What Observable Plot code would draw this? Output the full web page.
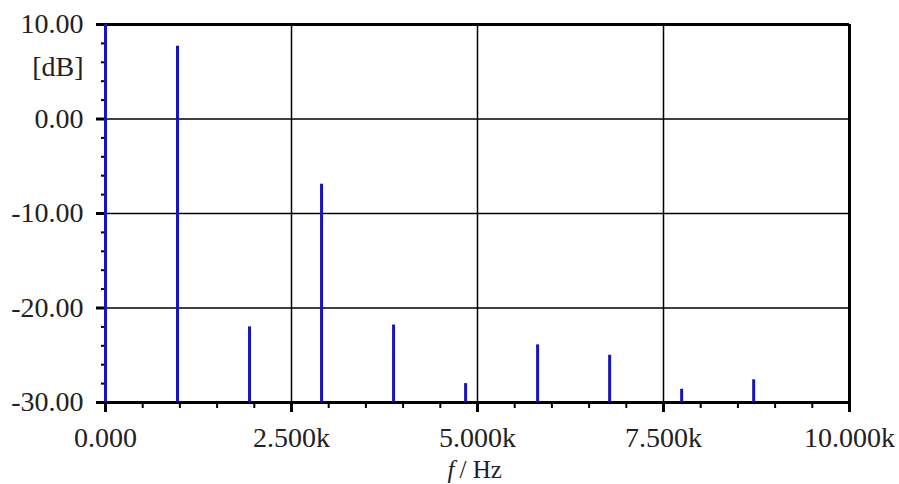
<!DOCTYPE html>
<html>
<head>
<meta charset="utf-8">
<script src="https://cdn.jsdelivr.net/npm/d3@7"></script>
<script src="https://cdn.jsdelivr.net/npm/@observablehq/plot@0.6"></script>
<style>
  html, body { margin: 0; padding: 0; background: white; }
</style>
</head>
<body>
<div id="chart"></div>
<script>
// Spectrum lines (frequency in Hz, level in dB)
const freqs = [0, 968, 1936, 2904, 3872, 4840, 5808, 6776, 7744, 8712];
const levels = [10, 7.7, -22.0, -6.9, -21.8, -28.0, -23.9, -25.0, -28.6, -27.6];

const xMajorTicks = [0, 2500, 5000, 7500, 10000];
const xMinorTicks = [500, 1000, 1500, 2000, 3000, 3500, 4000, 4500, 5500, 6000, 6500, 7000, 8000, 8500, 9000, 9500];
const yMajorTicks = [-30, -20, -10, 0, 10];
const yMinorTicks = [-28, -26, -24, -22, -18, -16, -14, -12, -8, -6, -4, -2, 2, 4, 6, 8];
const xGridLines = [2500, 5000, 7500];
const yGridLines = [-20, -10, 0];

const data = freqs.map((f, i) => ({f, db: levels[i]}));

const chart = Plot.plot({
  width: 899,
  height: 484,
  marginLeft: 105,
  marginRight: 50,
  marginTop: 24,
  marginBottom: 82,
  x: {domain: [0, 10000]},
  y: {domain: [-30, 10]},
  style: {fontFamily: "'Liberation Serif', 'DejaVu Serif', serif", fontSize: "28px", color: "#222", background: "white"},
  marks: [
    Plot.ruleX(xGridLines, {stroke: "black", strokeWidth: 1.5}),
    Plot.ruleY(yGridLines, {stroke: "black", strokeWidth: 1.5}),
    Plot.ruleY([10], {stroke: "black", strokeWidth: 3}),
    Plot.ruleX([10000], {stroke: "black", strokeWidth: 3}),
    Plot.ruleY([-30], {stroke: "black", strokeWidth: 3}),
    Plot.ruleX([0], {stroke: "black", strokeWidth: 3}),
    Plot.axisX(xMinorTicks, {tickSize: 6, tickFormat: () => "", strokeWidth: 2, stroke: "black", label: null}),
    Plot.axisX(xMajorTicks, {
      tickSize: 10, tickPadding: 15, strokeWidth: 3, stroke: "black", label: null, fontSize: 28,
      tickFormat: d => d === 0 ? "0.000" : (d / 1000).toFixed(3) + "k"
    }),
    Plot.axisY(yMinorTicks, {tickSize: 4, tickFormat: () => "", strokeWidth: 2, stroke: "black", label: null}),
    Plot.axisY(yMajorTicks, {
      tickSize: 9, tickPadding: 13, strokeWidth: 3, stroke: "black", label: null, fontSize: 28,
      tickFormat: d => d.toFixed(2)
    }),
    Plot.ruleX(data, {x: "f", y1: -30, y2: "db", stroke: "#1414c0", strokeWidth: 3}),
    Plot.text(["[dB]"], {frameAnchor: "top-left", dx: -22, dy: 43, textAnchor: "end", lineAnchor: "middle", fontSize: 28, fill: "#222"}),
    Plot.text(["f"], {frameAnchor: "bottom", dx: -23, dy: 67, textAnchor: "end", lineAnchor: "middle", fontStyle: "italic", fontSize: 25, fill: "#222"}),
    Plot.text(["/ Hz"], {frameAnchor: "bottom", dx: -18, dy: 67, textAnchor: "start", lineAnchor: "middle", fontSize: 25, fill: "#222"})
  ]
});

document.getElementById("chart").appendChild(chart);
</script>
</body>
</html>
